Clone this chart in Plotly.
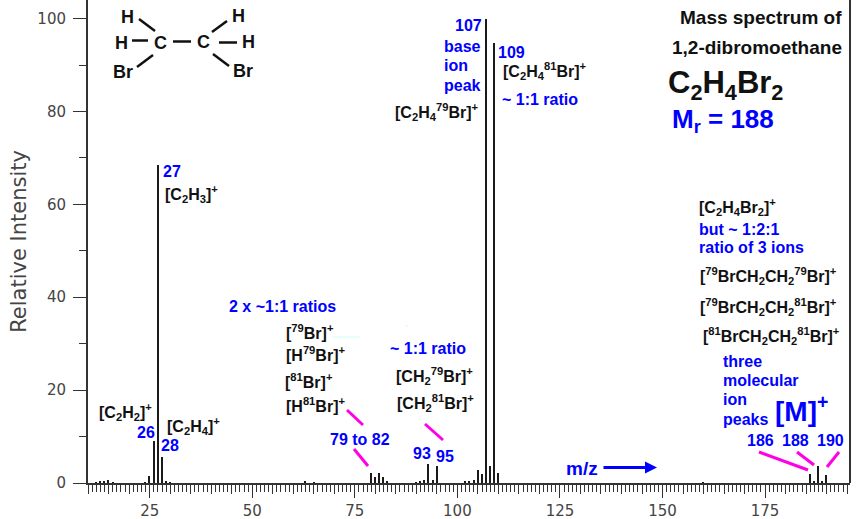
import plotly.graph_objects as go

# Mass spectrum of 1,2-dibromoethane
mz = [12, 13, 14, 15, 16, 24, 25, 26, 27, 28, 29, 30,
      63, 65, 79, 80, 81, 82, 83,
      90, 91, 92, 93, 94, 95,
      102, 103, 104, 105, 106, 107, 108, 109, 110,
      160, 186, 187, 188, 189, 190]
intensity = [0.2, 0.4, 0.5, 0.7, 0.2, 0.2, 1.5, 9.0, 68.5, 5.5, 0.4, 0.2,
             0.4, 0.2, 2.1, 1.4, 2.2, 1.4, 0.4,
             0.2, 0.5, 0.6, 4.1, 0.7, 3.6,
             0.3, 0.4, 0.7, 2.8, 2.0, 100.0, 3.6, 94.7, 2.1,
             0.2, 2.0, 0.4, 3.6, 0.4, 1.7]

x_ticks = [25, 50, 75, 100, 125, 150, 175]
y_ticks = [0, 20, 40, 60, 80, 100]

BLUE = '#0000ff'
BLACK = '#111111'
MAGENTA = '#ff00e6'
AXIS = '#333333'

LEFT, RIGHT, BOTTOM = 88, 850, 483


# picture pixels to paper coordinates, for the hand placed labels
def px(x):
    return (x - LEFT) / (RIGHT - LEFT)


def py(y):
    return (BOTTOM - y) / BOTTOM


fig = go.Figure()
fig.add_trace(go.Bar(x=mz, y=intensity, width=0.36, showlegend=False,
                     marker=dict(color='#1a1a1a', line=dict(width=0))))

# invisible trace so the 5 unit ticks get their own axis
fig.add_trace(go.Scatter(x=[], y=[], xaxis='x2', showlegend=False))

fig.update_layout(
    width=860, height=519,
    margin=dict(l=LEFT, r=860 - RIGHT, t=0, b=519 - BOTTOM),
    paper_bgcolor='white', plot_bgcolor='white',
    font=dict(family='Liberation Sans'),
    xaxis=dict(range=[9.96, 195.7], tickvals=x_ticks, ticks='outside', ticklen=13, tickwidth=1,
               tickcolor=AXIS, showline=True, linecolor=AXIS, linewidth=2, showgrid=False,
               zeroline=False, tickfont=dict(family='DejaVu Sans', size=15, color='#444444'),
               minor=dict(dtick=1, tick0=0, ticks='outside', ticklen=7, tickwidth=1,
                          tickcolor=AXIS, showgrid=False)),
    xaxis2=dict(range=[9.96, 195.7], overlaying='x', anchor='y', side='bottom', dtick=5, tick0=0,
                ticks='outside', ticklen=10, tickwidth=1, tickcolor=AXIS, showticklabels=False,
                showgrid=False, zeroline=False),
    yaxis=dict(range=[0, 104], tickvals=y_ticks, ticks='outside', ticklen=13, tickwidth=1,
               tickcolor=AXIS, showline=True, linecolor=AXIS, linewidth=2, showgrid=False,
               zeroline=False, tickfont=dict(family='DejaVu Sans', size=15, color='#444444'),
               ticklabelstandoff=4,
               title=dict(text='Relative Intensity', standoff=5,
                          font=dict(family='DejaVu Sans', size=21, color='#444444')),
               minor=dict(dtick=10, tick0=0, ticks='outside', ticklen=7, tickwidth=1,
                          tickcolor=AXIS, showgrid=False)),
    bargap=0,
)


def label(text, x, y, color=BLACK, size=16, anchor='left'):
    fig.add_annotation(xref='paper', yref='paper', x=px(x), y=py(y), text=text, showarrow=False,
                       xanchor=anchor, yanchor='middle', align='left',
                       font=dict(family='Liberation Sans', size=size, color=color),
                       borderpad=0, borderwidth=0)


def stroke(x0, y0, x1, y1, color, width):
    fig.add_shape(type='line', xref='paper', yref='paper', x0=px(x0), y0=py(y0), x1=px(x1), y1=py(y1),
                  line=dict(color=color, width=width))


# right hand frame line
stroke(RIGHT, 0, RIGHT, BOTTOM, AXIS, 2)

# structure in the top left corner
for t, x, y in [('H', 127, 17), ('H', 121, 43), ('C', 160, 43), ('C', 203, 42), ('H', 238, 16),
                ('H', 248, 42), ('Br', 123, 72), ('Br', 243, 71)]:
    label(f'<b>{t}</b>', x, y, size=18, anchor='center')
stroke(139, 19, 155, 31, BLACK, 2.5)
stroke(132, 40.5, 148, 40.5, BLACK, 2.5)
stroke(173, 41.5, 191, 41.5, BLACK, 2.5)
stroke(212, 32, 227, 21, BLACK, 2.5)
stroke(219, 42.5, 237, 42.5, BLACK, 2.5)
stroke(137, 67, 153, 55, BLACK, 2.5)
stroke(213, 54, 229, 66, BLACK, 2.5)

# title block
label('<b>Mass spectrum of</b>', 842, 17, size=19, anchor='right')
label('<b>1,2-dibromoethane</b>', 842, 47, size=19, anchor='right')
label('<b>C<sub>2</sub>H<sub>4</sub>Br<sub>2</sub></b>', 668, 85, size=31)
label('<b>M<sub>r</sub> = 188</b>', 672, 120, color=BLUE, size=26)

# base peak labels
label('<b>107</b>', 455, 25, BLUE)
label('<b>base</b>', 444, 46, BLUE)
label('<b>ion</b>', 444, 65, BLUE)
label('<b>peak</b>', 444, 85, BLUE)
label('<b>[C<sub>2</sub>H<sub>4</sub><sup>79</sup>Br]<sup>+</sup></b>', 395, 112)
label('<b>109</b>', 498, 52, BLUE)
label('<b>[C<sub>2</sub>H<sub>4</sub><sup>81</sup>Br]<sup>+</sup></b>', 503, 71)
label('<b>~ 1:1 ratio</b>', 502, 99, BLUE)

# low mass fragments
label('<b>27</b>', 163, 171, BLUE)
label('<b>[C<sub>2</sub>H<sub>3</sub>]<sup>+</sup></b>', 165, 194)
label('<b>[C<sub>2</sub>H<sub>2</sub>]<sup>+</sup></b>', 99, 412)
label('<b>26</b>', 137, 432, BLUE)
label('<b>[C<sub>2</sub>H<sub>4</sub>]<sup>+</sup></b>', 167, 426)
label('<b>28</b>', 161, 445, BLUE)

# bromine fragments
label('<b>2 x ~1:1 ratios</b>', 229, 306, BLUE)
label('<b>[<sup>79</sup>Br]<sup>+</sup></b>', 286, 332)
label('<b>[H<sup>79</sup>Br]<sup>+</sup></b>', 286, 354)
label('<b>[<sup>81</sup>Br]<sup>+</sup></b>', 285, 381)
label('<b>[H<sup>81</sup>Br]<sup>+</sup></b>', 286, 405)
label('<b>~ 1:1 ratio</b>', 390, 348, BLUE)
label('<b>[CH<sub>2</sub><sup>79</sup>Br]<sup>+</sup></b>', 396, 376)
label('<b>[CH<sub>2</sub><sup>81</sup>Br]<sup>+</sup></b>', 397, 403)
label('<b>79 to 82</b>', 330, 439, BLUE)
label('<b>93</b>', 413, 453, BLUE)
label('<b>95</b>', 436, 456, BLUE)

# molecular ion block
label('<b>[C<sub>2</sub>H<sub>4</sub>Br<sub>2</sub>]<sup>+</sup></b>', 699, 207)
label('<b>but ~ 1:2:1</b>', 699, 229, BLUE)
label('<b>ratio of 3 ions</b>', 699, 248, BLUE)
label('<b>[<sup>79</sup>BrCH<sub>2</sub>CH<sub>2</sub><sup>79</sup>Br]<sup>+</sup></b>', 700, 276)
label('<b>[<sup>79</sup>BrCH<sub>2</sub>CH<sub>2</sub><sup>81</sup>Br]<sup>+</sup></b>', 700, 307)
label('<b>[<sup>81</sup>BrCH<sub>2</sub>CH<sub>2</sub><sup>81</sup>Br]<sup>+</sup></b>', 703, 336)
label('<b>three</b>', 723, 361, BLUE)
label('<b>molecular</b>', 723, 380, BLUE)
label('<b>ion</b>', 723, 400, BLUE)
label('<b>peaks</b>', 723, 419, BLUE)
label('<b>[M]<sup>+</sup></b>', 775, 409, BLUE, 28)
label('<b>186</b>', 747, 440, BLUE)
label('<b>188</b>', 782, 440, BLUE)
label('<b>190</b>', 817, 440, BLUE)
label('<b>m/z</b>', 566, 468, BLUE, 19)

# magenta leader lines
stroke(347, 410, 363, 425, MAGENTA, 3)
stroke(354, 449, 368, 466, MAGENTA, 3)
stroke(425, 424, 443, 440, MAGENTA, 3)
stroke(759, 452, 808, 470, MAGENTA, 3)
stroke(797, 452, 814, 465, MAGENTA, 3)
stroke(839, 452, 827, 467, MAGENTA, 3)

# pale specks left over in the original
stroke(332, 337, 360, 337, '#ccffff', 1)
stroke(405, 326, 408, 326, '#ccffff', 1)

# m/z arrow
fig.add_annotation(xref='paper', yref='paper', x=px(657), y=py(467.5), ax=-55, ay=0, text='',
                   showarrow=True, arrowhead=2, arrowsize=0.8, arrowwidth=3, arrowcolor=BLUE)

# drop the browser's default page margin so the figure sits at the window corner
fig.write_html("out.html", config=dict(displayModeBar=False),
               post_script="document.body.style.margin='0';")
